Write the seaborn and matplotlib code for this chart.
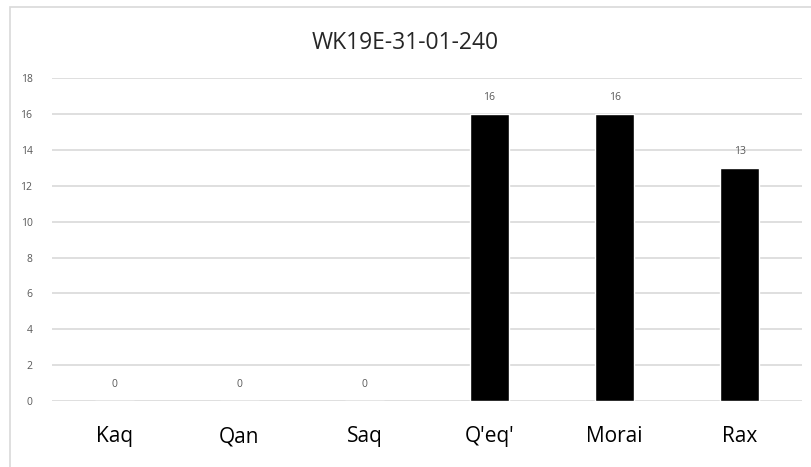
import matplotlib
matplotlib.use("Agg")
import matplotlib.pyplot as plt
import seaborn as sns
import pandas as pd
from matplotlib.patches import Rectangle

categories = ["Kaq", "Qan", "Saq", "Q'eq'", "Morai", "Rax"]
values = [0, 0, 0, 16, 16, 13]
title = "WK19E-31-01-240"

sns.set_theme(style="white")
plt.rcParams["font.family"] = ["Open Sans", "DejaVu Sans"]

df = pd.DataFrame({"cat": categories, "val": values})

fig = plt.figure(figsize=(8.11, 4.67), dpi=100)
ax = fig.add_axes([0.064, 0.141, 0.925, 0.692])

# chart area border
fig.patches.append(Rectangle((0.012, -0.01), 1.0, 0.995, transform=fig.transFigure,
                             fill=False, edgecolor="#d9d9d9", linewidth=1.2))

sns.barplot(data=df, x="cat", y="val", color="black", width=0.31,
            saturation=1, ax=ax, zorder=3)

ax.set_ylim(0, 18)
ax.set_yticks(range(0, 19, 2))
ax.yaxis.grid(True, color="#d9d9d9", linewidth=1.2, zorder=0)
ax.set_axisbelow(True)
for s in ax.spines.values():
    s.set_visible(False)

ax.tick_params(axis="y", labelsize=7.5, labelcolor="#595959", length=0, pad=14)
ax.tick_params(axis="x", labelsize=15, labelcolor="black", length=0, pad=18)
ax.set_xlabel("")
ax.set_ylabel("")

for i, v in enumerate(values):
    ax.annotate(str(v), (i, v), xytext=(0, 12), textcoords="offset points",
                ha="center", va="center", fontsize=7.5, color="#595959")

fig.text(0.5, 0.907, title, ha="center", va="center", fontsize=16.5, color="#262626")

fig.savefig("out.png", dpi=100)
